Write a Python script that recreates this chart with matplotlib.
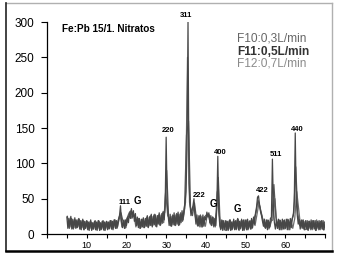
import numpy as np
import matplotlib
matplotlib.use("Agg")
from matplotlib import pyplot as plt
from matplotlib.lines import Line2D

plt.rcParams['font.family'] = ['Liberation Sans', 'DejaVu Sans']

# F11: 5.00 .. 70.00 every 0.25 deg
f11 = [24, 8, 22, 10, 25, 7, 21, 9, 23, 8, 20, 10, 22, 7, 19, 9, 21, 6, 18, 8,
       19, 6, 17, 8, 20, 5, 16, 7, 18, 6, 17, 8, 19, 5, 16, 7, 18, 6, 17, 8,
       18, 6, 17, 8, 19, 7, 18, 9, 20, 8, 19, 10, 21, 26, 40, 18, 9, 19, 8, 20,
       12, 24, 16, 30, 22, 36, 24, 33, 18, 29, 12, 24, 9, 22, 8, 21, 10, 23, 9, 22,
       11, 26, 9, 24, 12, 28, 10, 25, 13, 27, 11, 26, 14, 30, 12, 27, 15, 32, 20, 40,
       137, 45, 26, 12, 28, 11, 25, 13, 30, 12, 27, 14, 31, 13, 28, 16, 33, 20, 36, 44,
       60, 120, 300, 72, 42, 26, 34, 40, 50, 28, 14, 27, 11, 26, 10, 25, 12, 27, 11, 24,
       20, 31, 24, 30, 16, 26, 12, 24, 10, 22, 12, 36, 110, 32, 12, 6, 20, 5, 19, 7,
       19, 5, 18, 7, 20, 5, 17, 8, 21, 6, 19, 7, 22, 6, 18, 8, 21, 5, 20, 7,
       19, 6, 21, 8, 18, 7, 22, 9, 24, 14, 30, 38, 52, 54, 42, 32, 26, 18, 11, 21,
       8, 20, 6, 19, 9, 22, 24, 106, 38, 16, 7, 20, 8, 21, 6, 19, 9, 21, 7, 20,
       8, 21, 6, 20, 10, 22, 9, 21, 26, 46, 143, 48, 27, 14, 21, 7, 19, 8, 20, 6,
       18, 7, 19, 5, 18, 8, 20, 6, 18, 7, 19, 5, 17, 8, 19, 6, 18, 7, 19, 6,
       16]

# F10: 5.125 .. 69.625 every 0.5 deg
f10 = [25, 8, 22, 7, 20, 9, 21, 6, 19, 8,
       18, 5, 17, 7, 19, 5, 18, 6, 19, 5,
       17, 7, 19, 6, 20, 8, 20, 30, 18, 8,
       22, 26, 33, 28, 24, 12, 22, 9, 21, 10,
       24, 11, 26, 12, 28, 10, 27, 13, 30, 30,
       90, 22, 12, 27, 13, 29, 12, 30, 18, 36,
       140, 160, 38, 26, 44, 22, 12, 27, 10, 24,
       27, 28, 14, 24, 12, 30, 80, 10, 19, 6,
       18, 5, 20, 6, 18, 6, 21, 7, 19, 5,
       20, 6, 19, 8, 22, 30, 48, 38, 26, 12,
       9, 20, 10, 23, 70, 24, 8, 20, 6, 19,
       9, 21, 6, 20, 30, 95, 30, 12, 20, 8,
       19, 6, 18, 8, 19, 5, 18, 7, 19, 6]

# F12: 5.375 .. 69.875 every 0.5 deg
f12 = [10, 23, 8, 20, 9, 21, 7, 19, 6, 18,
       6, 18, 7, 17, 6, 19, 6, 18, 5, 17,
       8, 19, 7, 20, 8, 18, 28, 10, 20, 9,
       26, 32, 22, 28, 10, 22, 8, 20, 9, 22,
       10, 25, 12, 27, 11, 26, 13, 29, 16, 60,
       26, 22, 11, 26, 12, 28, 13, 25, 24, 45,
       250, 45, 30, 40, 24, 12, 25, 10, 23, 11,
       28, 27, 12, 23, 10, 60, 26, 8, 18, 5,
       7, 19, 6, 18, 7, 20, 5, 19, 6, 20,
       6, 18, 7, 20, 12, 28, 44, 30, 20, 9,
       19, 7, 18, 20, 50, 12, 19, 6, 18, 7,
       20, 6, 19, 8, 22, 60, 35, 9, 19, 6,
       7, 18, 6, 19, 8, 20, 6, 18, 7, 17]

x11 = 5 + 0.25 * np.arange(len(f11))
x10 = 5.125 + 0.5 * np.arange(len(f10))
x12 = 5.375 + 0.5 * np.arange(len(f12))

peak_labels = ['111', '220', '311', '222', '400', '422', '511', '440']
peak_x = [19.4, 30.6, 34.9, 38.4, 43.6, 54.2, 57.7, 62.9]
peak_y = [45, 146, 309, 54, 116, 61, 113, 148]
g_x = [22.8, 41.9, 47.9]
g_y = [47, 43, 35]

series_names = ['F10:0,3L/min', 'F11:0,5L/min', 'F12:0,7L/min']
series_colors = ['#666666', '#333333', '#8a8a8a']

fig = plt.figure(figsize=(3.37, 2.56), dpi=100)
ax = fig.add_axes([0.1395, 0.0859, 0.825, 0.828])

ax.plot(x12, f12, color='#6c6c6c', lw=0.9)
ax.plot(x10, f10, color='#565656', lw=0.9)
ax.plot(x11, f11, color='#474747', lw=0.9)

ax.set_xlim(0, 70)
ax.set_ylim(0, 300)
ax.set_yticks(range(0, 301, 50))
ax.set_xticks(range(0, 71, 5))
ax.set_xticklabels([str(v) if v % 10 == 0 and 0 < v < 70 else '' for v in range(0, 71, 5)])
ax.tick_params(axis='y', direction='out', length=4, width=0.8, pad=5, labelsize=8.5)
ax.tick_params(axis='x', direction='out', length=3, width=0.8, pad=2, labelsize=6.5)
for s in ['top', 'right']:
    ax.spines[s].set_visible(False)
for s in ['left', 'bottom']:
    ax.spines[s].set_linewidth(0.9)

ax.text(3.8, 290, 'Fe:Pb 15/1. Nitratos', fontsize=7.2, fontweight='bold', va='center', ha='left')

for lab, px, py in zip(peak_labels, peak_x, peak_y):
    ax.text(px, py, lab, fontsize=5.5, fontweight='bold', ha='center', va='center')
for px, py in zip(g_x, g_y):
    ax.text(px, py, 'G', fontsize=7, fontweight='bold', ha='center', va='center')

name_y = [277, 257, 241]
for name, c, ny in zip(series_names, series_colors, name_y):
    ax.text(47.8, ny, name, fontsize=8.6, color=c, ha='left', va='center',
            fontweight='bold' if name.startswith('F11') else 'normal')

# outer frame of the figure
x0, x1 = 6 / 337, 332 / 337
y0, y1 = 1 - 251 / 256, 1 - 3 / 256
fig.add_artist(Line2D([x0, x1], [y1, y1], color='#b0b0b0', lw=1))
fig.add_artist(Line2D([x1, x1], [y0, y1], color='#b0b0b0', lw=1))
fig.add_artist(Line2D([x0, x0], [y0, y1], color='#222222', lw=1.2))
fig.add_artist(Line2D([x0, x1], [y0, y0], color='#000000', lw=1.8))

fig.savefig('out.png', dpi=100)
